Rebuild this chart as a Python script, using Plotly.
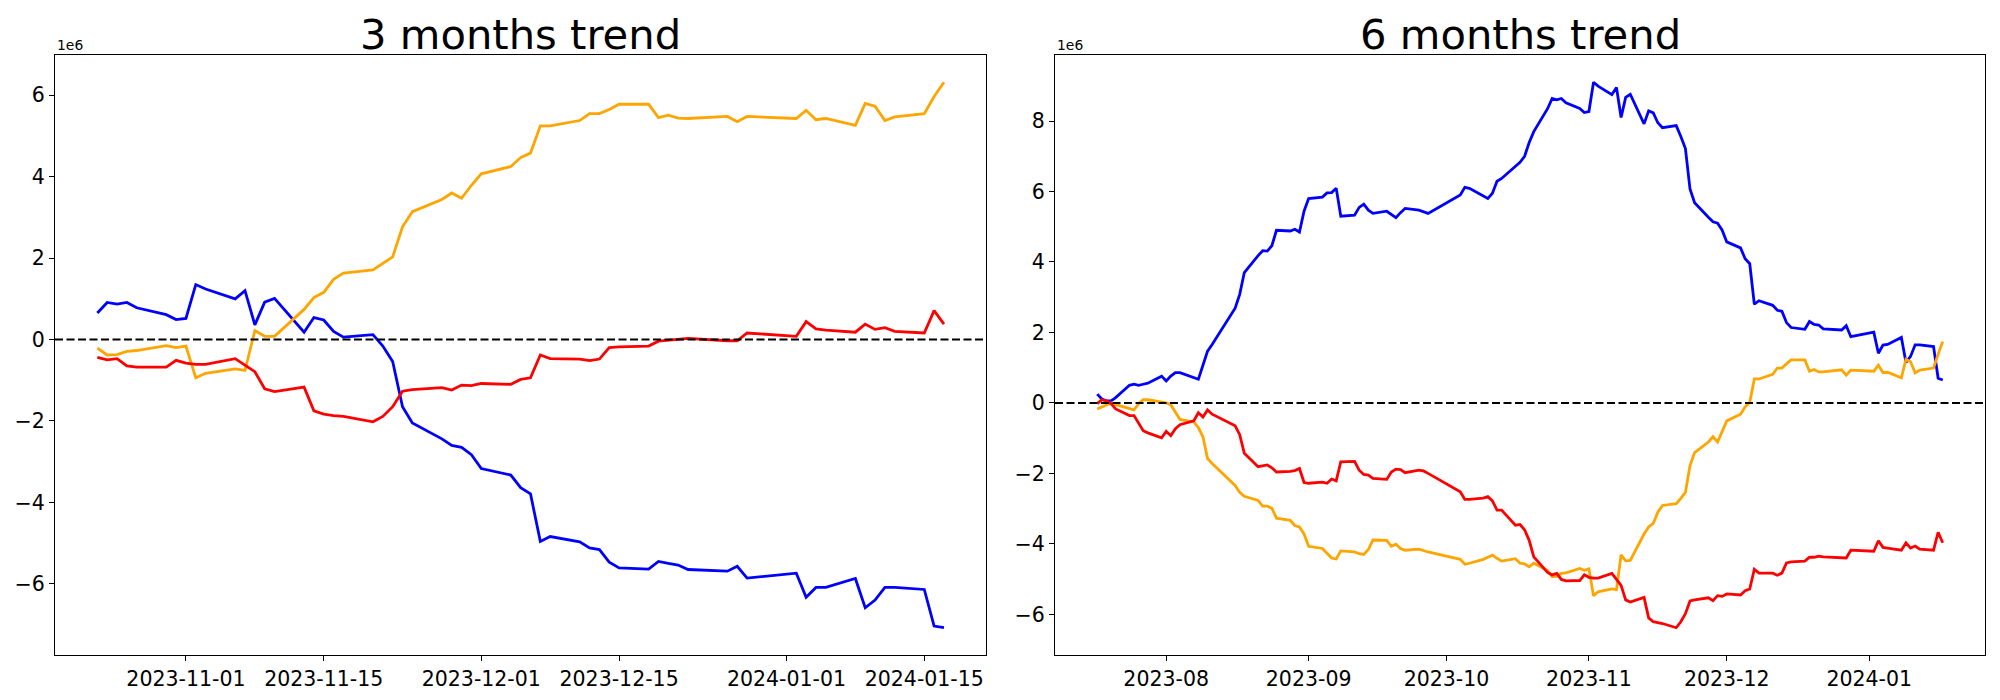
import pandas as pd
import plotly.graph_objects as go

# ---------------- data (values in units of 1e6) ----------------
L_DATES = [
    "2023-10-23", "2023-10-24", "2023-10-25", "2023-10-26", "2023-10-27",
    "2023-10-30", "2023-10-31", "2023-11-01", "2023-11-02", "2023-11-03",
    "2023-11-06", "2023-11-07", "2023-11-08", "2023-11-09", "2023-11-10",
    "2023-11-13", "2023-11-14", "2023-11-15", "2023-11-16", "2023-11-17",
    "2023-11-20", "2023-11-21", "2023-11-22", "2023-11-23", "2023-11-24",
    "2023-11-27", "2023-11-28", "2023-11-29", "2023-11-30", "2023-12-01",
    "2023-12-04", "2023-12-05", "2023-12-06", "2023-12-07", "2023-12-08",
    "2023-12-11", "2023-12-12", "2023-12-13", "2023-12-14", "2023-12-15",
    "2023-12-18", "2023-12-19", "2023-12-20", "2023-12-21", "2023-12-22",
    "2023-12-26", "2023-12-27", "2023-12-28",
    "2024-01-02", "2024-01-03", "2024-01-04", "2024-01-05",
    "2024-01-08", "2024-01-09", "2024-01-10", "2024-01-11", "2024-01-12",
    "2024-01-15", "2024-01-16", "2024-01-17",
]
L_BLUE = [
    0.65, 0.91, 0.87, 0.91, 0.78,
    0.61, 0.49, 0.52, 1.35, 1.24,
    1.00, 1.20, 0.36, 0.92, 1.01,
    0.18, 0.54, 0.48, 0.20, 0.06,
    0.12, -0.16, -0.54, -1.65, -2.05,
    -2.44, -2.60, -2.65, -2.83, -3.17,
    -3.33, -3.64, -3.79, -4.96, -4.84,
    -4.97, -5.12, -5.16, -5.47, -5.61,
    -5.64, -5.45, -5.50, -5.54, -5.65,
    -5.69, -5.57, -5.86,
    -5.74, -6.33, -6.09, -6.09,
    -5.87, -6.59, -6.40, -6.09, -6.09,
    -6.14, -7.04, -7.08,
]
L_ORANGE = [
    -0.21, -0.38, -0.37, -0.29, -0.27,
    -0.15, -0.20, -0.16, -0.94, -0.83,
    -0.72, -0.76, 0.22, 0.08, 0.08,
    0.74, 1.03, 1.16, 1.48, 1.63,
    1.71, 1.88, 2.03, 2.77, 3.14,
    3.44, 3.60, 3.47, 3.79, 4.07,
    4.25, 4.47, 4.58, 5.25, 5.25,
    5.38, 5.55, 5.55, 5.65, 5.78,
    5.78, 5.45, 5.51, 5.44, 5.43,
    5.48, 5.35, 5.48,
    5.43, 5.63, 5.40, 5.43,
    5.26, 5.80, 5.73, 5.38, 5.47,
    5.55, 5.97, 6.32,
]
L_RED = [
    -0.44, -0.50, -0.47, -0.65, -0.68,
    -0.68, -0.51, -0.58, -0.61, -0.61,
    -0.47, -0.64, -0.79, -1.21, -1.28,
    -1.17, -1.75, -1.83, -1.87, -1.89,
    -2.02, -1.89, -1.65, -1.27, -1.23,
    -1.18, -1.24, -1.12, -1.13, -1.08,
    -1.10, -0.98, -0.94, -0.38, -0.47,
    -0.48, -0.52, -0.48, -0.20, -0.18,
    -0.16, -0.04, -0.02, 0.00, 0.03,
    -0.03, -0.03, 0.16,
    0.08, 0.44, 0.26, 0.23,
    0.18, 0.38, 0.25, 0.29, 0.20,
    0.16, 0.71, 0.38,
]

R_DATES = [
    "2023-07-17", "2023-07-18", "2023-07-19", "2023-07-20", "2023-07-21",
    "2023-07-24", "2023-07-25", "2023-07-26", "2023-07-27", "2023-07-28",
    "2023-07-31", "2023-08-01", "2023-08-02", "2023-08-03", "2023-08-04",
    "2023-08-07", "2023-08-08", "2023-08-09", "2023-08-10", "2023-08-11",
    "2023-08-14", "2023-08-15", "2023-08-16", "2023-08-17", "2023-08-18",
    "2023-08-21", "2023-08-22", "2023-08-23", "2023-08-24", "2023-08-25",
    "2023-08-28", "2023-08-29", "2023-08-30", "2023-08-31", "2023-09-01",
    "2023-09-04", "2023-09-05", "2023-09-06", "2023-09-07", "2023-09-08",
    "2023-09-11", "2023-09-12", "2023-09-13", "2023-09-14", "2023-09-15",
    "2023-09-18", "2023-09-19", "2023-09-20", "2023-09-21", "2023-09-22",
    "2023-09-25", "2023-09-26", "2023-09-27",
    "2023-10-04", "2023-10-05", "2023-10-06",
    "2023-10-09", "2023-10-10", "2023-10-11", "2023-10-12", "2023-10-13",
    "2023-10-16", "2023-10-17", "2023-10-18", "2023-10-19", "2023-10-20",
    "2023-10-23", "2023-10-24", "2023-10-25", "2023-10-26", "2023-10-27",
    "2023-10-30", "2023-10-31", "2023-11-01", "2023-11-02", "2023-11-03",
    "2023-11-06", "2023-11-07", "2023-11-08", "2023-11-09", "2023-11-10",
    "2023-11-13", "2023-11-14", "2023-11-15", "2023-11-16", "2023-11-17",
    "2023-11-20", "2023-11-21", "2023-11-22", "2023-11-23", "2023-11-24",
    "2023-11-27", "2023-11-28", "2023-11-29", "2023-11-30", "2023-12-01",
    "2023-12-04", "2023-12-05", "2023-12-06", "2023-12-07", "2023-12-08",
    "2023-12-11", "2023-12-12", "2023-12-13", "2023-12-14", "2023-12-15",
    "2023-12-18", "2023-12-19", "2023-12-20", "2023-12-21", "2023-12-22",
    "2023-12-26", "2023-12-27", "2023-12-28",
    "2024-01-02", "2024-01-03", "2024-01-04", "2024-01-05",
    "2024-01-08", "2024-01-09", "2024-01-10", "2024-01-11", "2024-01-12",
    "2024-01-15", "2024-01-16", "2024-01-17",
]
R_BLUE = [
    0.25, 0.11, 0.06, 0.06, 0.15,
    0.50, 0.53, 0.50, 0.53, 0.56,
    0.76, 0.62, 0.76, 0.86, 0.86,
    0.72, 0.67, 1.07, 1.47, 1.66,
    2.26, 2.48, 2.69, 3.08, 3.70,
    4.18, 4.32, 4.31, 4.46, 4.90,
    4.88, 4.93, 4.85, 5.44, 5.80,
    5.84, 5.96, 5.97, 6.09, 5.30,
    5.33, 5.55, 5.64, 5.47, 5.38,
    5.44, 5.36, 5.26, 5.40, 5.52,
    5.47, 5.43, 5.38,
    5.90, 6.12, 6.09,
    5.87, 5.80, 5.95, 6.29, 6.37,
    6.72, 6.83, 7.00, 7.39, 7.70,
    8.35, 8.64, 8.60, 8.64, 8.52,
    8.36, 8.24, 8.27, 9.10, 8.99,
    8.75, 8.95, 8.10, 8.67, 8.76,
    7.92, 8.29, 8.23, 7.95, 7.81,
    7.87, 7.56, 7.22, 6.07, 5.68,
    5.27, 5.14, 5.10, 4.90, 4.57,
    4.40, 4.09, 3.95, 2.80, 2.90,
    2.77, 2.63, 2.60, 2.28, 2.14,
    2.09, 2.31, 2.23, 2.21, 2.10,
    2.07, 2.19, 1.88,
    2.01, 1.41, 1.64, 1.66,
    1.86, 1.15, 1.32, 1.65, 1.65,
    1.60, 0.70, 0.65,
]
R_ORANGE = [
    -0.17, -0.11, -0.05, 0.00, -0.05,
    -0.17, -0.20, -0.02, 0.09, 0.09,
    0.03, 0.00, -0.05, -0.28, -0.47,
    -0.54, -0.70, -0.96, -1.58, -1.72,
    -2.09, -2.21, -2.34, -2.54, -2.65,
    -2.77, -2.93, -2.93, -2.99, -3.27,
    -3.33, -3.48, -3.52, -3.72, -4.07,
    -4.13, -4.28, -4.40, -4.43, -4.20,
    -4.23, -4.28, -4.30, -4.16, -3.89,
    -3.90, -4.07, -4.01, -4.13, -4.18,
    -4.15, -4.20, -4.23,
    -4.44, -4.58, -4.55,
    -4.44, -4.38, -4.32, -4.41, -4.49,
    -4.42, -4.55, -4.57, -4.65, -4.55,
    -4.76, -4.93, -4.92, -4.84, -4.82,
    -4.70, -4.75, -4.71, -5.47, -5.36,
    -5.28, -5.30, -4.31, -4.48, -4.47,
    -3.72, -3.52, -3.42, -3.10, -2.91,
    -2.86, -2.71, -2.54, -1.78, -1.41,
    -1.11, -0.96, -1.11, -0.79, -0.51,
    -0.32, -0.11, 0.02, 0.68, 0.68,
    0.81, 0.99, 0.99, 1.11, 1.22,
    1.22, 0.90, 0.95, 0.88, 0.88,
    0.94, 0.79, 0.93,
    0.90, 1.07, 0.86, 0.87,
    0.71, 1.24, 1.17, 0.85, 0.93,
    0.99, 1.38, 1.74,
]
R_RED = [
    -0.02, 0.09, 0.06, -0.02, -0.17,
    -0.36, -0.36, -0.56, -0.79, -0.85,
    -0.99, -0.81, -0.93, -0.73, -0.62,
    -0.51, -0.28, -0.40, -0.20, -0.32,
    -0.51, -0.59, -0.65, -0.90, -1.43,
    -1.81, -1.78, -1.76, -1.84, -1.96,
    -1.94, -1.92, -1.86, -2.26, -2.28,
    -2.25, -2.28, -2.16, -2.21, -1.67,
    -1.66, -1.91, -2.03, -2.05, -2.14,
    -2.17, -1.96, -1.88, -1.89, -1.98,
    -1.91, -1.93, -2.00,
    -2.52, -2.74, -2.74,
    -2.70, -2.66, -2.78, -3.04, -3.04,
    -3.47, -3.45, -3.60, -3.90, -4.37,
    -4.81, -4.88, -4.84, -5.01, -5.05,
    -5.04, -4.88, -4.95, -4.97, -4.97,
    -4.84, -5.02, -5.18, -5.59, -5.65,
    -5.52, -6.10, -6.21, -6.24, -6.26,
    -6.38, -6.21, -5.98, -5.62, -5.59,
    -5.53, -5.61, -5.47, -5.49, -5.42,
    -5.45, -5.33, -5.28, -4.72, -4.83,
    -4.83, -4.89, -4.83, -4.54, -4.51,
    -4.49, -4.38, -4.38, -4.35, -4.37,
    -4.38, -4.40, -4.18,
    -4.21, -3.91, -4.10, -4.12,
    -4.18, -3.97, -4.12, -4.06, -4.15,
    -4.18, -3.67, -3.97,
]

TITLES = ["3 months trend", "6 months trend"]
L_XTICKS = ["2023-11-01", "2023-11-15", "2023-12-01", "2023-12-15", "2024-01-01", "2024-01-15"]
R_XTICKS = ["2023-08-01", "2023-09-01", "2023-10-01", "2023-11-01", "2023-12-01", "2024-01-01"]
OFFSET_LABEL = "1e6"
COLORS = {"blue": "#0000ff", "orange": "#ffa500", "red": "#ff0000"}

# ---------------- layout geometry ----------------
# the page body adds an 8px margin, so the figure is 8px smaller and
# every inner position is shifted by 8px to land where the reference has it
BODY = 8
W, H = 2000 - BODY, 700 - BODY
ML, MR, MT, MB = 55 - BODY, 15, 55 - BODY, 45
PW = W - ML - MR
DOM_L = [0.0, (986.3 - BODY - ML) / PW]
DOM_R = [(1055.0 - BODY - ML) / PW, 1.0]
FONT = "DejaVu Sans"
TICK_SIZE = 20.5


def pad_dates(dates, frac=0.05):
    d = pd.to_datetime(dates)
    span = d.max() - d.min()
    return [d.min() - span * frac, d.max() + span * frac]


def pad_vals(*series, frac=0.05):
    allv = [v for s in series for v in s]
    lo, hi = min(allv), max(allv)
    p = (hi - lo) * frac
    return [lo - p, hi + p]


fig = go.Figure()

panels = [
    (L_DATES, L_BLUE, L_ORANGE, L_RED, "x", "y"),
    (R_DATES, R_BLUE, R_ORANGE, R_RED, "x2", "y2"),
]
for dates, b, o, r, xa, ya in panels:
    for vals, col in ((b, "blue"), (o, "orange"), (r, "red")):
        fig.add_trace(go.Scatter(
            x=pd.to_datetime(dates), y=vals, mode="lines",
            line=dict(color=COLORS[col], width=2.8),
            xaxis=xa, yaxis=ya, showlegend=False, hoverinfo="skip",
        ))

axis_common = dict(
    showline=True, linecolor="black", linewidth=1.1, mirror=True,
    ticks="outside", ticklen=5, tickwidth=1.1, tickcolor="black",
    showgrid=False, zeroline=False,
    tickfont=dict(family=FONT, size=TICK_SIZE, color="black"),
)

fig.update_layout(
    width=W, height=H,
    margin=dict(l=ML, r=MR, t=MT, b=MB, autoexpand=False),
    paper_bgcolor="white", plot_bgcolor="white",
    font=dict(family=FONT, color="black"),
    showlegend=False,
    xaxis=dict(domain=DOM_L, anchor="y", type="date", range=pad_dates(L_DATES),
               tickmode="array", tickvals=L_XTICKS, tickformat="%Y-%m-%d", **axis_common),
    yaxis=dict(domain=[0, 1], anchor="x", range=pad_vals(L_BLUE, L_ORANGE, L_RED),
               tickmode="linear", tick0=0, dtick=2, **axis_common),
    xaxis2=dict(domain=DOM_R, anchor="y2", type="date", range=pad_dates(R_DATES),
                tickmode="array", tickvals=R_XTICKS, tickformat="%Y-%m", **axis_common),
    yaxis2=dict(domain=[0, 1], anchor="x2", range=pad_vals(R_BLUE, R_ORANGE, R_RED),
                tickmode="linear", tick0=0, dtick=2, **axis_common),
)

# dashed zero lines
for xr, yr in (("x domain", "y"), ("x2 domain", "y2")):
    fig.add_shape(type="line", xref=xr, yref=yr, x0=0, x1=1, y0=0, y1=0,
                  line=dict(color="black", width=2, dash="8px,3.5px"), layer="above")

# titles and offset labels
for title, dom in zip(TITLES, (DOM_L, DOM_R)):
    fig.add_annotation(text=title, xref="paper", yref="paper",
                       x=(dom[0] + dom[1]) / 2, y=1, xanchor="center", yanchor="bottom",
                       yshift=-5, borderpad=0, showarrow=False,
                       font=dict(family=FONT, size=41.7, color="black"))
    fig.add_annotation(text=OFFSET_LABEL, xref="paper", yref="paper",
                       x=dom[0], y=1, xanchor="left", yanchor="bottom",
                       showarrow=False, font=dict(family=FONT, size=13.9, color="black"))

fig.write_html("out.html")
